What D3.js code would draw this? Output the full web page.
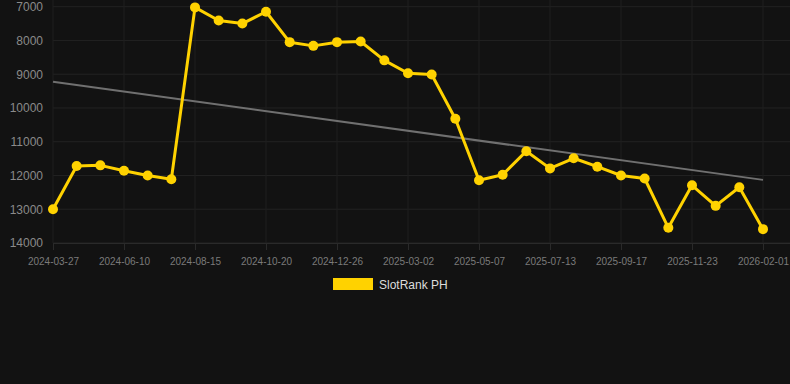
<!DOCTYPE html>
<html><head><meta charset="utf-8">
<script src="https://cdn.jsdelivr.net/npm/d3@7"></script>
<style>html,body{margin:0;padding:0;background:#121212;}svg{display:block;}</style>
</head><body>
<script>
const dates = ["2024-03-27","2024-04-19","2024-05-12","2024-06-10","2024-07-02","2024-07-24","2024-08-15","2024-09-06","2024-09-28","2024-10-20","2024-11-11","2024-12-03","2024-12-26","2025-01-17","2025-02-08","2025-03-02","2025-03-24","2025-04-15","2025-05-07","2025-05-29","2025-06-20","2025-07-13","2025-08-04","2025-08-26","2025-09-17","2025-10-09","2025-10-31","2025-11-23","2025-12-16","2026-01-08","2026-02-01"];
const rankValues = [13000,11720,11700,11860,12000,12110,7020,7410,7500,7150,8050,8160,8050,8030,8590,8970,9010,10320,12140,11980,11280,11790,11490,11740,12000,12090,13550,12290,12900,12350,13590];
const trendEnds = [9220, 12130];
const yTicks = [7000,8000,9000,10000,11000,12000,13000,14000];
const seriesName = "SlotRank PH";

const W = 790, H = 384;
const svg = d3.select("body").append("svg").attr("width", W).attr("height", H)
  .style("font-family", "Liberation Sans, Arial, sans-serif");
svg.append("rect").attr("width", W).attr("height", H).attr("fill", "#121212");

const x = d3.scalePoint().domain(dates).range([53, 763]);
const y = d3.scaleLinear().domain([7000, 14000]).range([6.7, 243]);

const labelDates = dates.filter((d, i) => i % 3 === 0);

// grid
const g = svg.append("g");
g.selectAll(".hg").data(yTicks).join("line")
  .attr("x1", 53).attr("x2", W).attr("y1", d => y(d)).attr("y2", d => y(d))
  .attr("stroke", "#222").attr("stroke-width", 1);
g.selectAll(".vg").data(labelDates).join("line")
  .attr("x1", d => x(d)).attr("x2", d => x(d)).attr("y1", 0).attr("y2", 243)
  .attr("stroke", "#1e1e1e").attr("stroke-width", 1);

// y axis
const yAxis = svg.append("g").attr("transform", "translate(45,0)")
  .call(d3.axisLeft(y).tickValues(yTicks).tickSize(0).tickPadding(2).tickFormat(d3.format("d")));
yAxis.select(".domain").remove();
yAxis.selectAll("text").attr("fill", "#8a8a8a").style("font-size", "12px");

// x axis
const xAxis = svg.append("g").attr("transform", "translate(0,243)")
  .call(d3.axisBottom(x).tickValues(labelDates).tickSize(7).tickPadding(8));
xAxis.select(".domain").attr("stroke", "#2a2a2a").attr("d", "M53,0.5H790");
xAxis.selectAll(".tick line").attr("stroke", "#2a2a2a");
xAxis.selectAll("text").attr("fill", "#7a7a7a").style("font-size", "10px");

// trend line
svg.append("line")
  .attr("x1", x(dates[0])).attr("y1", y(trendEnds[0]))
  .attr("x2", x(dates[dates.length-1])).attr("y2", y(trendEnds[1]))
  .attr("stroke", "#707070").attr("stroke-width", 2);

// series
const color = "#FFD200";
svg.append("path").datum(rankValues.map((v, i) => [dates[i], v]))
  .attr("fill", "none").attr("stroke", color).attr("stroke-width", 3)
  .attr("stroke-linejoin", "round")
  .attr("d", d3.line().x(d => x(d[0])).y(d => y(d[1])));
svg.selectAll(".pt").data(rankValues).join("circle")
  .attr("cx", (d, i) => x(dates[i])).attr("cy", d => y(d)).attr("r", 5)
  .attr("fill", color);

// legend
const lg = svg.append("g");
lg.append("rect").attr("x", 333).attr("y", 278).attr("width", 40).attr("height", 12).attr("fill", color);
lg.append("text").attr("x", 379).attr("y", 288.5).text(seriesName)
  .attr("fill", "#dddddd").style("font-size", "12px");
</script>
</body></html>
